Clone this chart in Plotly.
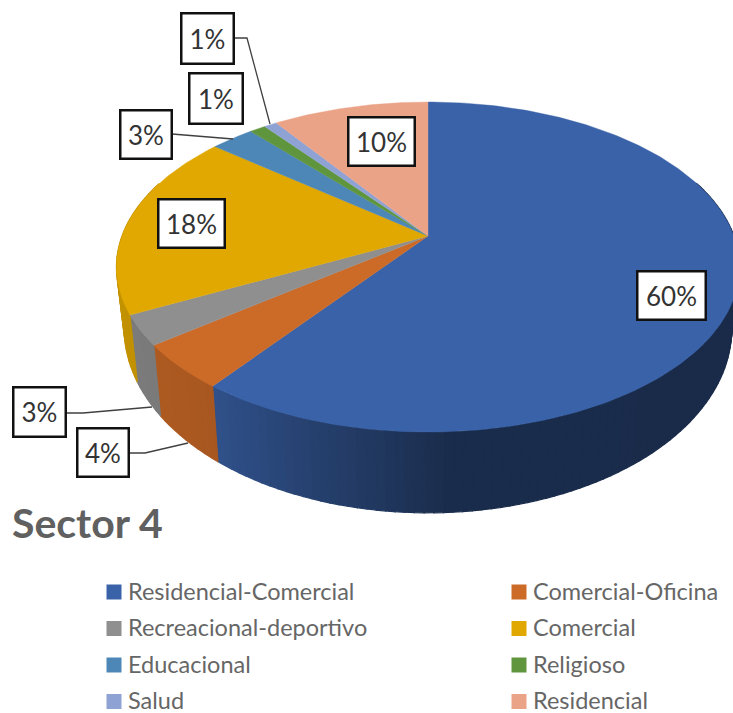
import numpy as np
import plotly.graph_objects as go

# --- data ---
categories = ["Residencial-Comercial", "Comercial-Oficina", "Recreacional-deportivo", "Comercial",
              "Educacional", "Religioso", "Salud", "Residencial"]
values = [60.2, 4.4, 2.9, 18.3, 2.7, 1.0, 0.8, 9.7]
value_labels = ["60%", "4%", "3%", "18%", "3%", "1%", "1%", "10%"]
colors = ["#3A62A8", "#CC6A27", "#8F8F8F", "#E0A800", "#4D87B8", "#5F953D", "#8FA2D4", "#EBA388"]

# --- layout constants (pixels of the 733x713 page) ---
CX, CY = 428.0, 236.0
A, B, K = 159.2, 306.0, 0.188   # perspective of the disc
BOTTOM_Y0, BOTTOM_SY, BOTTOM_SX = 294.0, 1.116, 0.975
shade_x = [116, 160, 215, 300, 450, 733]
shade_f = [0.87, 0.85, 0.82, 0.68, 0.45, 0.44]
label_boxes = [(637, 271, 706, 320), (77, 428, 129, 477), (13, 387, 66, 437), (158, 199, 225, 248),
               (120, 110, 172, 159), (189, 73, 243, 124), (181, 13, 234, 64), (348, 117, 415, 166)]
leaders = [[(129, 453), (145, 453), (188, 443)],
           [(66, 413), (83, 413), (152, 407)],
           [(172, 134), (183, 135), (233, 139)],
           [(234, 38), (247, 38), (270, 124)]]
legend_cols = [(114, 128), (519, 533)]
legend_y0, legend_dy = 592, 36.5
legend_text_dy = 2


def project(theta):
    x, y = np.sin(theta), np.cos(theta)
    d = 1 + K * y
    return B * x / d, -A * y / d


def top(theta):
    sx, sy = project(theta)
    return CX + sx, CY + sy


def bottom(theta):
    sx, sy = project(theta)
    return CX + BOTTOM_SX * sx, BOTTOM_Y0 + BOTTOM_SY * sy


def darken(hex_color, f):
    r, g, b = (int(hex_color[i:i + 2], 16) for i in (1, 3, 5))
    return f"rgb({r * f:.0f},{g * f:.0f},{b * f:.0f})"


fig = go.Figure()
fractions = np.cumsum([0] + values) / sum(values) * 2 * np.pi

# side wall: narrow strips, shaded by their position across the page
for i, colour in enumerate(colors):
    a0, a1 = fractions[i], fractions[i + 1]
    n = max(2, int((a1 - a0) / np.radians(1.5)))
    edges = np.linspace(a0, a1, n + 1)
    for t0, t1 in zip(edges[:-1], edges[1:]):
        if np.cos((t0 + t1) / 2) > 0.35:
            continue
        ts = np.array([t0, t1])
        xt, yt = top(ts)
        xb, yb = bottom(ts[::-1])
        f = float(np.interp((xt.mean() + xb.mean()) / 2, shade_x, shade_f))
        c = darken(colour, f)
        fig.add_trace(go.Scatter(x=list(xt) + list(xb) + [xt[0]], y=list(yt) + list(yb) + [yt[0]],
                                 mode="lines", fill="toself", fillcolor=c, line=dict(color=c, width=1.2),
                                 hoverinfo="skip", showlegend=False))

# top face
for i, (name, colour) in enumerate(zip(categories, colors)):
    ts = np.linspace(fractions[i], fractions[i + 1], max(3, int(values[i] * 4)))
    xs, ys = top(ts)
    fig.add_trace(go.Scatter(x=[CX] + list(xs) + [CX], y=[CY] + list(ys) + [CY], mode="lines", fill="toself",
                             fillcolor=colour, line=dict(color=colour, width=0.4), name=name,
                             hoverinfo="name", showlegend=False))

# leader lines
for pts in leaders:
    fig.add_trace(go.Scatter(x=[p[0] for p in pts], y=[p[1] for p in pts], mode="lines",
                             line=dict(color="#404040", width=1.3), hoverinfo="skip", showlegend=False))

# legend
for i, (name, colour) in enumerate(zip(categories, colors)):
    mx, tx = legend_cols[i % 2]
    y = legend_y0 + legend_dy * (i // 2)
    fig.add_trace(go.Scatter(x=[mx], y=[y], mode="markers", marker=dict(symbol="square", size=15, color=colour),
                             hoverinfo="skip", showlegend=False))
    fig.add_trace(go.Scatter(x=[tx], y=[y + legend_text_dy], mode="text", text=[name], textposition="middle right",
                             textfont=dict(family="Lato", size=23.5, color="#666666"),
                             hoverinfo="skip", showlegend=False, cliponaxis=False))

# value labels
for text, (x0, y0, x1, y1) in zip(value_labels, label_boxes):
    fig.add_annotation(x=(x0 + x1) / 2, y=(y0 + y1) / 2, text=text, showarrow=False, xanchor="center",
                       yanchor="middle", width=x1 - x0 - 3, height=y1 - y0 - 3, align="center", valign="middle",
                       bgcolor="white", bordercolor="#111111", borderwidth=2.5, borderpad=0,
                       font=dict(family="Lato", size=26, color="#333333"))

fig.add_annotation(x=10, y=522, text="<b>Sector 4</b>", showarrow=False, xanchor="left", yanchor="middle",
                   font=dict(family="Lato", size=41, color="#606060"))

fig.update_layout(width=733, height=713, margin=dict(l=0, r=0, t=0, b=0), paper_bgcolor="white",
                  plot_bgcolor="white", showlegend=False,
                  xaxis=dict(range=[0, 733], visible=False, fixedrange=True),
                  yaxis=dict(range=[713, 0], visible=False, fixedrange=True))
fig.write_html("out.html", config={"displayModeBar": False},
               post_script="document.body.style.margin='0';document.documentElement.style.overflow='hidden';")
